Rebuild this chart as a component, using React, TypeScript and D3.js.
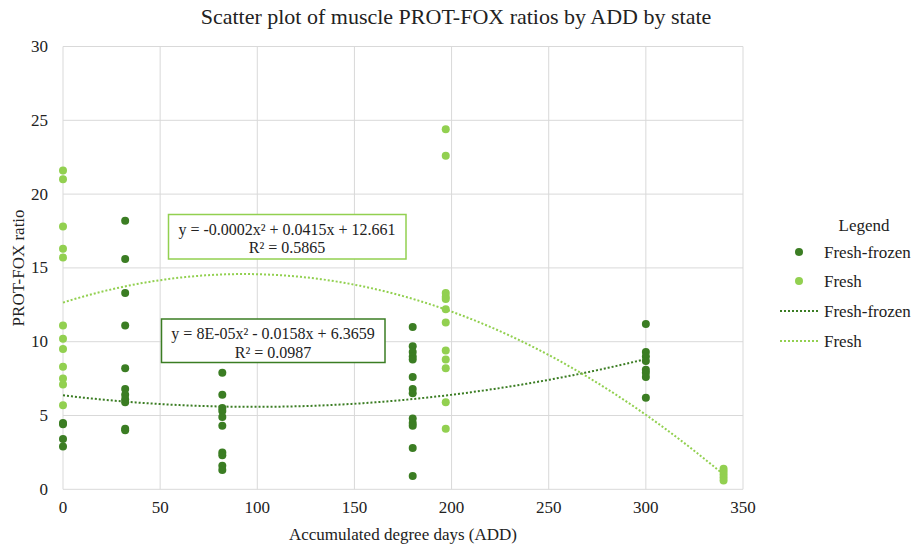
import React from "react";
import * as d3 from "d3";

const xTicks = [0, 50, 100, 150, 200, 250, 300, 350];
const yTicks = [0, 5, 10, 15, 20, 25, 30];

const freshX = [0,0,0,0,0,0,0,0,0,0,0,0, 197,197,197,197,197,197,197,197,197,197,197,197, 340,340,340,340,340];
const freshY = [21.6,21.0,17.8,16.3,15.7,11.1,10.2,9.5,8.3,7.5,7.1,5.7, 24.4,22.6,13.3,13.05,12.9,12.2,11.3,9.4,8.8,8.2,5.9,4.1, 1.4,1.2,1.0,0.8,0.6];

const frozenX = [0,0,0,0, 32,32,32,32,32,32,32,32,32,32,32, 82,82,82,82,82,82,82,82,82,82, 180,180,180,180,180,180,180,180,180,180,180,180,180, 300,300,300,300,300,300,300,300];
const frozenY = [4.5,4.4,3.4,2.9, 18.2,15.6,13.3,11.1,8.2,6.8,6.4,6.1,5.9,4.1,4.0, 7.9,6.4,5.5,5.3,4.9,4.3,2.5,2.3,1.6,1.3, 11.0,9.7,9.3,9.0,8.8,7.6,6.8,6.5,4.8,4.5,4.3,2.8,0.9, 11.2,9.3,9.0,8.7,8.1,7.9,7.6,6.2];

// Trendline coefficients for Fresh-frozen as shown on the chart label (a, b, c)
const frozenTrendCoef = [8e-5, -0.0158, 6.3659];

const freshEq = ["y = -0.0002x² + 0.0415x + 12.661", "R² = 0.5865"];
const frozenEq = ["y = 8E-05x² - 0.0158x + 6.3659", "R² = 0.0987"];

const DARK = "#3b7d23";
const LIGHT = "#92d050";
const FONT = "'Liberation Serif', 'Times New Roman', Times, serif";

function quadFit(xs: number[], ys: number[]) {
  let s0 = 0, s1 = 0, s2 = 0, s3 = 0, s4 = 0, t0 = 0, t1 = 0, t2 = 0;
  for (let i = 0; i < xs.length; i++) {
    const x = xs[i], y = ys[i];
    s0 += 1; s1 += x; s2 += x * x; s3 += x * x * x; s4 += x * x * x * x;
    t0 += y; t1 += x * y; t2 += x * x * y;
  }
  const M = [[s4, s3, s2, t2], [s3, s2, s1, t1], [s2, s1, s0, t0]];
  for (let c = 0; c < 3; c++) {
    let p = c;
    for (let r = c + 1; r < 3; r++) if (Math.abs(M[r][c]) > Math.abs(M[p][c])) p = r;
    [M[c], M[p]] = [M[p], M[c]];
    for (let r = 0; r < 3; r++) {
      if (r === c) continue;
      const f = M[r][c] / M[c][c];
      for (let k = c; k < 4; k++) M[r][k] -= f * M[c][k];
    }
  }
  return [M[0][3] / M[0][0], M[1][3] / M[1][1], M[2][3] / M[2][2]];
}

const T = (props: any) => <text fill="#222" dominantBaseline="central" style={{ fontFamily: FONT }} {...props} />;

export default function App() {
  const left = 63, right = 743, top = 46.5, bottom = 489.3;
  const x = d3.scaleLinear().domain([0, 350]).range([left, right]);
  const y = d3.scaleLinear().domain([0, 30]).range([bottom, top]);

  const curve = (coef: number[], x0: number, x1: number) => {
    const [a, b, c] = coef;
    const pts = d3.range(0, 201).map((i) => {
      const xv = x0 + ((x1 - x0) * i) / 200;
      return [xv, a * xv * xv + b * xv + c] as [number, number];
    });
    return d3.line<[number, number]>().x((d) => x(d[0])).y((d) => y(d[1]))(pts)!;
  };

  const frozenPath = curve(frozenTrendCoef, d3.min(frozenX)!, d3.max(frozenX)!);
  const freshPath = curve(quadFit(freshX, freshY), d3.min(freshX)!, d3.max(freshX)!);

  return (
    <svg width={920} height={550} style={{ position: "absolute", left: 0, top: 0, background: "#fff" }}>
      <rect width={920} height={550} fill="#fff" />
      <T x={456} y={16} textAnchor="middle" fontSize={22}>
        Scatter plot of muscle PROT-FOX ratios by ADD by state
      </T>
      {yTicks.map((t) => (
        <line key={"gy" + t} x1={left} x2={right} y1={y(t)} y2={y(t)} stroke="#d9d9d9" strokeWidth={1} />
      ))}
      {xTicks.map((t) => (
        <line key={"gx" + t} x1={x(t)} x2={x(t)} y1={top} y2={bottom} stroke="#d9d9d9" strokeWidth={1} />
      ))}
      {yTicks.map((t) => (
        <T key={"ty" + t} x={48} y={y(t)} textAnchor="end" fontSize={17}>{t}</T>
      ))}
      {xTicks.map((t) => (
        <T key={"tx" + t} x={x(t)} y={507} textAnchor="middle" fontSize={17}>{t}</T>
      ))}
      <T x={x(175)} y={534} textAnchor="middle" fontSize={17}>Accumulated degree days (ADD)</T>
      <T transform={`translate(18,${(top + bottom) / 2}) rotate(-90)`} textAnchor="middle" fontSize={17}>PROT-FOX ratio</T>

      {frozenX.map((xv, i) => (
        <circle key={"fz" + i} cx={x(xv)} cy={y(frozenY[i])} r={4} fill={DARK} />
      ))}
      {freshX.map((xv, i) => (
        <circle key={"fr" + i} cx={x(xv)} cy={y(freshY[i])} r={4} fill={LIGHT} />
      ))}
      <path d={frozenPath} fill="none" stroke={DARK} strokeWidth={2} strokeDasharray="2 2" />
      <path d={freshPath} fill="none" stroke={LIGHT} strokeWidth={2} strokeDasharray="2 2" />

      <rect x={168.5} y={214.5} width={237.5} height={44.5} fill="#fff" stroke={LIGHT} strokeWidth={1.5} />
      <T x={287} y={229} textAnchor="middle" fontSize={16}>{freshEq[0]}</T>
      <T x={287} y={247} textAnchor="middle" fontSize={16}>{freshEq[1]}</T>
      <rect x={161.5} y={319} width={223.5} height={43.5} fill="#fff" stroke={DARK} strokeWidth={1.5} />
      <T x={273} y={333} textAnchor="middle" fontSize={16}>{frozenEq[0]}</T>
      <T x={273} y={352} textAnchor="middle" fontSize={16}>{frozenEq[1]}</T>

      <T x={864} y={225} textAnchor="middle" fontSize={17}>Legend</T>
      <circle cx={799} cy={252} r={4} fill={DARK} />
      <T x={824} y={252} fontSize={17}>Fresh-frozen</T>
      <circle cx={799} cy={281} r={4} fill={LIGHT} />
      <T x={824} y={281} fontSize={17}>Fresh</T>
      <line x1={780} x2={818} y1={311} y2={311} stroke={DARK} strokeWidth={2} strokeDasharray="2 2" />
      <T x={824} y={311} fontSize={17}>Fresh-frozen</T>
      <line x1={780} x2={818} y1={341} y2={341} stroke={LIGHT} strokeWidth={2} strokeDasharray="2 2" />
      <T x={824} y={341} fontSize={17}>Fresh</T>
    </svg>
  );
}
